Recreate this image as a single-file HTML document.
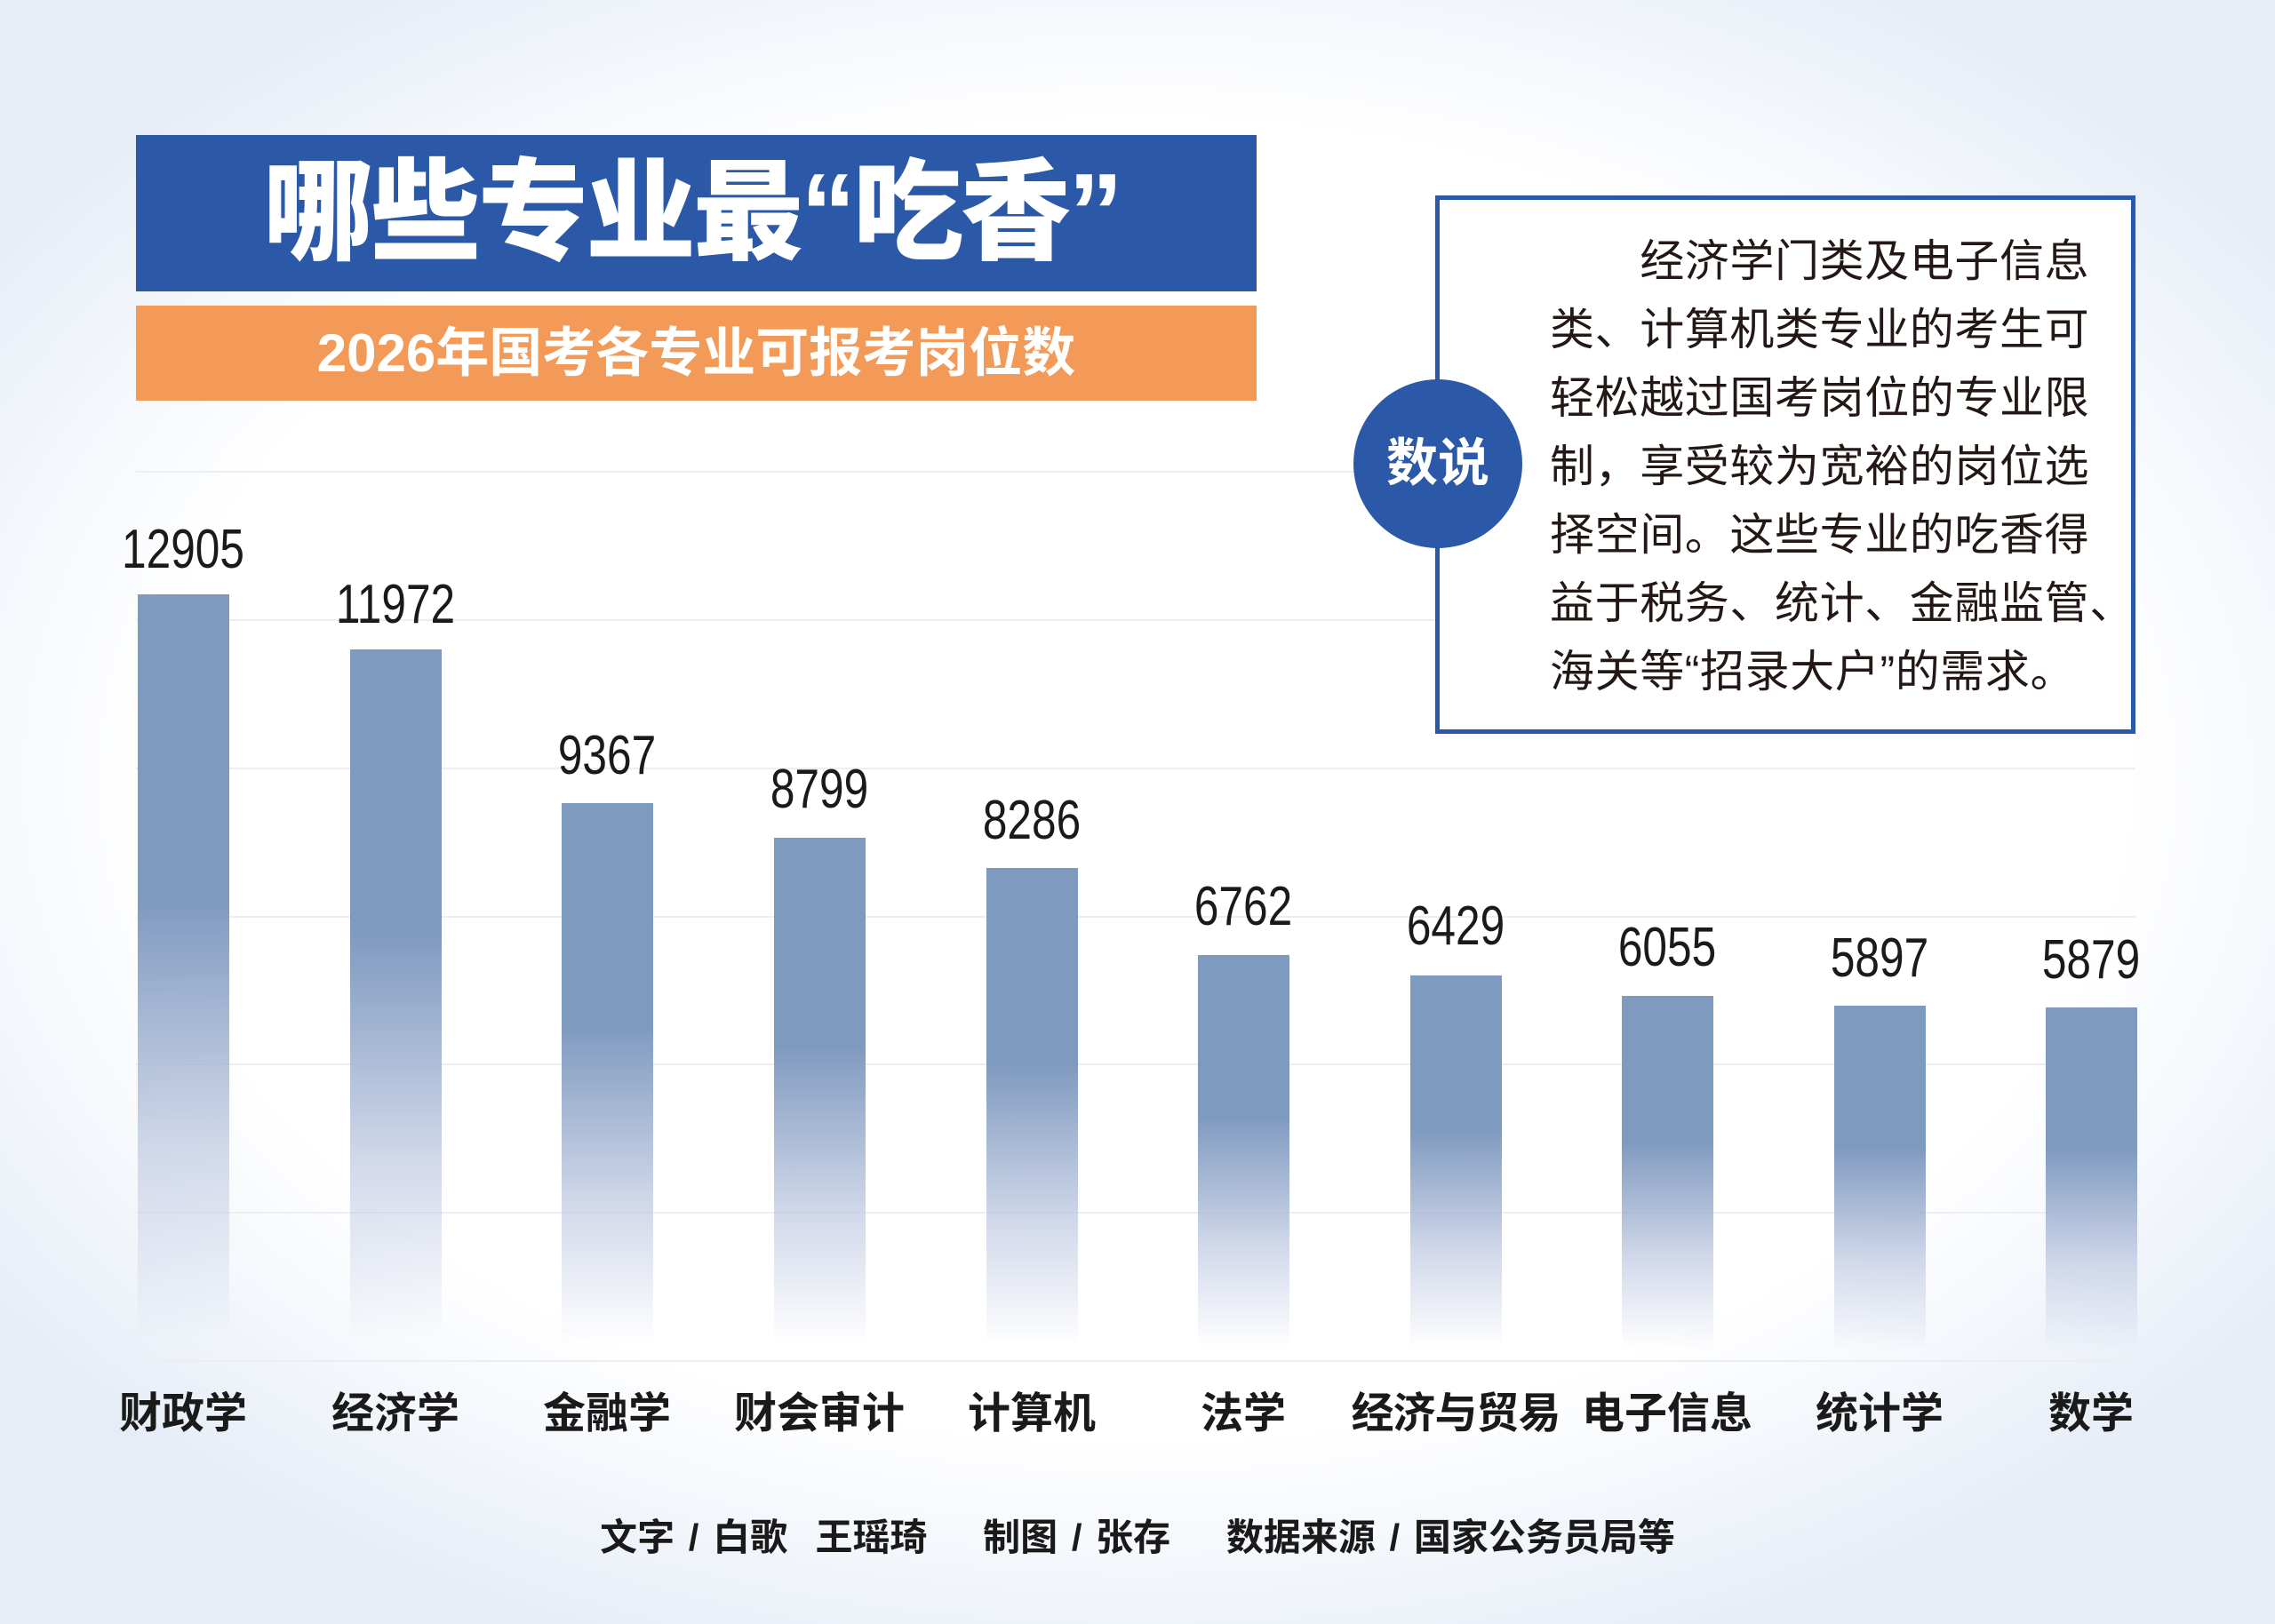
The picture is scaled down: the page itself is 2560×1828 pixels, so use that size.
<!DOCTYPE html>
<html><head><meta charset="utf-8">
<style>
html,body{margin:0;padding:0}
body{width:2560px;height:1828px;position:relative;overflow:hidden;
 background:#e6edf7;font-family:"Liberation Sans","Noto Sans CJK SC",sans-serif}
.inner{position:absolute;left:0;top:0;width:2560px;height:1828px;
 background:radial-gradient(ellipse 62% 58% at 50% 48%, #ffffff 70%, rgba(255,255,255,0) 100%);}
.abs{position:absolute}
.title{left:153px;top:152px;width:1261px;height:176px;background:#2b59a7;color:#fff;
 font-weight:900;font-size:124px;line-height:176px;text-align:center;letter-spacing:-3px;text-indent:-10px}
.sub{left:153px;top:344px;width:1261px;height:107px;background:#f39a58;color:#fff;
 font-weight:bold;font-size:60px;line-height:107px;text-align:center;text-indent:0px}
.grid{left:153px;width:2250px;height:2px;background:#eceef2}
.bar{width:103px;background:linear-gradient(to bottom,#7f9abf 0%,#7f9abf 40%,rgba(190,200,225,0.7) 72%,rgba(255,255,255,0) 97%)}
.val{width:240px;text-align:center;font-size:62px;color:#1a1a1a;transform:scaleX(0.8);line-height:62px}
.cat{width:240px;text-align:center;font-size:48px;font-weight:bold;color:#1a1a1a;top:1562px;line-height:60px}
.box{left:1615px;top:220px;width:778px;height:596px;border:5px solid #2b59a7;background:#fff}
.txt{left:1744px;top:256px;width:700px;font-size:50px;line-height:77px;color:#231815;white-space:nowrap;letter-spacing:0.6px}
.circ{left:1523px;top:427px;width:190px;height:190px;border-radius:50%;background:#2b59a7;color:#fff;
 font-weight:bold;font-size:58px;line-height:190px;text-align:center}
.foot{left:0;width:2560px;top:1703px;text-align:center;font-size:42px;font-weight:bold;color:#1a1a1a;line-height:56px;word-spacing:4px}
</style></head><body>
<div class="inner"></div>
<div class="abs title">哪些专业最“吃香”</div>
<div class="abs sub">2026年国考各专业可报考岗位数</div>

<div class="abs grid" style="top:530px"></div>
<div class="abs grid" style="top:697px"></div>
<div class="abs grid" style="top:864px"></div>
<div class="abs grid" style="top:1031px"></div>
<div class="abs grid" style="top:1197px"></div>
<div class="abs grid" style="top:1364px"></div>
<div class="abs grid" style="top:1531px"></div>

<div class="abs box"></div>
<div class="abs txt">&emsp;&emsp;经济学门类及电子信息<br>类、计算机类专业的考生可<br>轻松越过国考岗位的专业限<br>制，享受较为宽裕的岗位选<br>择空间。这些专业的吃香得<br>益于税务、统计、金融监管、<br>海关等“招录大户”的需求。</div>
<div class="abs circ">数说</div>

<div class="abs bar" style="left:155px;top:669px;height:862px"></div>
<div class="abs bar" style="left:394px;top:731px;height:800px"></div>
<div class="abs bar" style="left:632px;top:904px;height:627px"></div>
<div class="abs bar" style="left:871px;top:943px;height:588px"></div>
<div class="abs bar" style="left:1110px;top:977px;height:554px"></div>
<div class="abs bar" style="left:1348px;top:1075px;height:456px"></div>
<div class="abs bar" style="left:1587px;top:1098px;height:433px"></div>
<div class="abs bar" style="left:1825px;top:1121px;height:410px"></div>
<div class="abs bar" style="left:2064px;top:1132px;height:399px"></div>
<div class="abs bar" style="left:2302px;top:1134px;height:397px"></div>

<div class="abs val" style="left:86px;top:588px">12905</div>
<div class="abs val" style="left:325px;top:650px">11972</div>
<div class="abs val" style="left:563px;top:820px">9367</div>
<div class="abs val" style="left:802px;top:858px">8799</div>
<div class="abs val" style="left:1041px;top:893px">8286</div>
<div class="abs val" style="left:1279px;top:990px">6762</div>
<div class="abs val" style="left:1518px;top:1012px">6429</div>
<div class="abs val" style="left:1756px;top:1036px">6055</div>
<div class="abs val" style="left:1995px;top:1048px">5897</div>
<div class="abs val" style="left:2233px;top:1050px">5879</div>

<div class="abs cat" style="left:86px">财政学</div>
<div class="abs cat" style="left:325px">经济学</div>
<div class="abs cat" style="left:563px">金融学</div>
<div class="abs cat" style="left:802px">财会审计</div>
<div class="abs cat" style="left:1041px">计算机</div>
<div class="abs cat" style="left:1279px">法学</div>
<div class="abs cat" style="left:1518px;letter-spacing:-1px">经济与贸易</div>
<div class="abs cat" style="left:1756px">电子信息</div>
<div class="abs cat" style="left:1995px">统计学</div>
<div class="abs cat" style="left:2233px">数学</div>

<div class="abs foot">文字 / 白歌&nbsp; 王瑶琦&nbsp;&nbsp;&nbsp; 制图 / 张存&nbsp;&nbsp;&nbsp; 数据来源 / 国家公务员局等</div>
</body></html>
